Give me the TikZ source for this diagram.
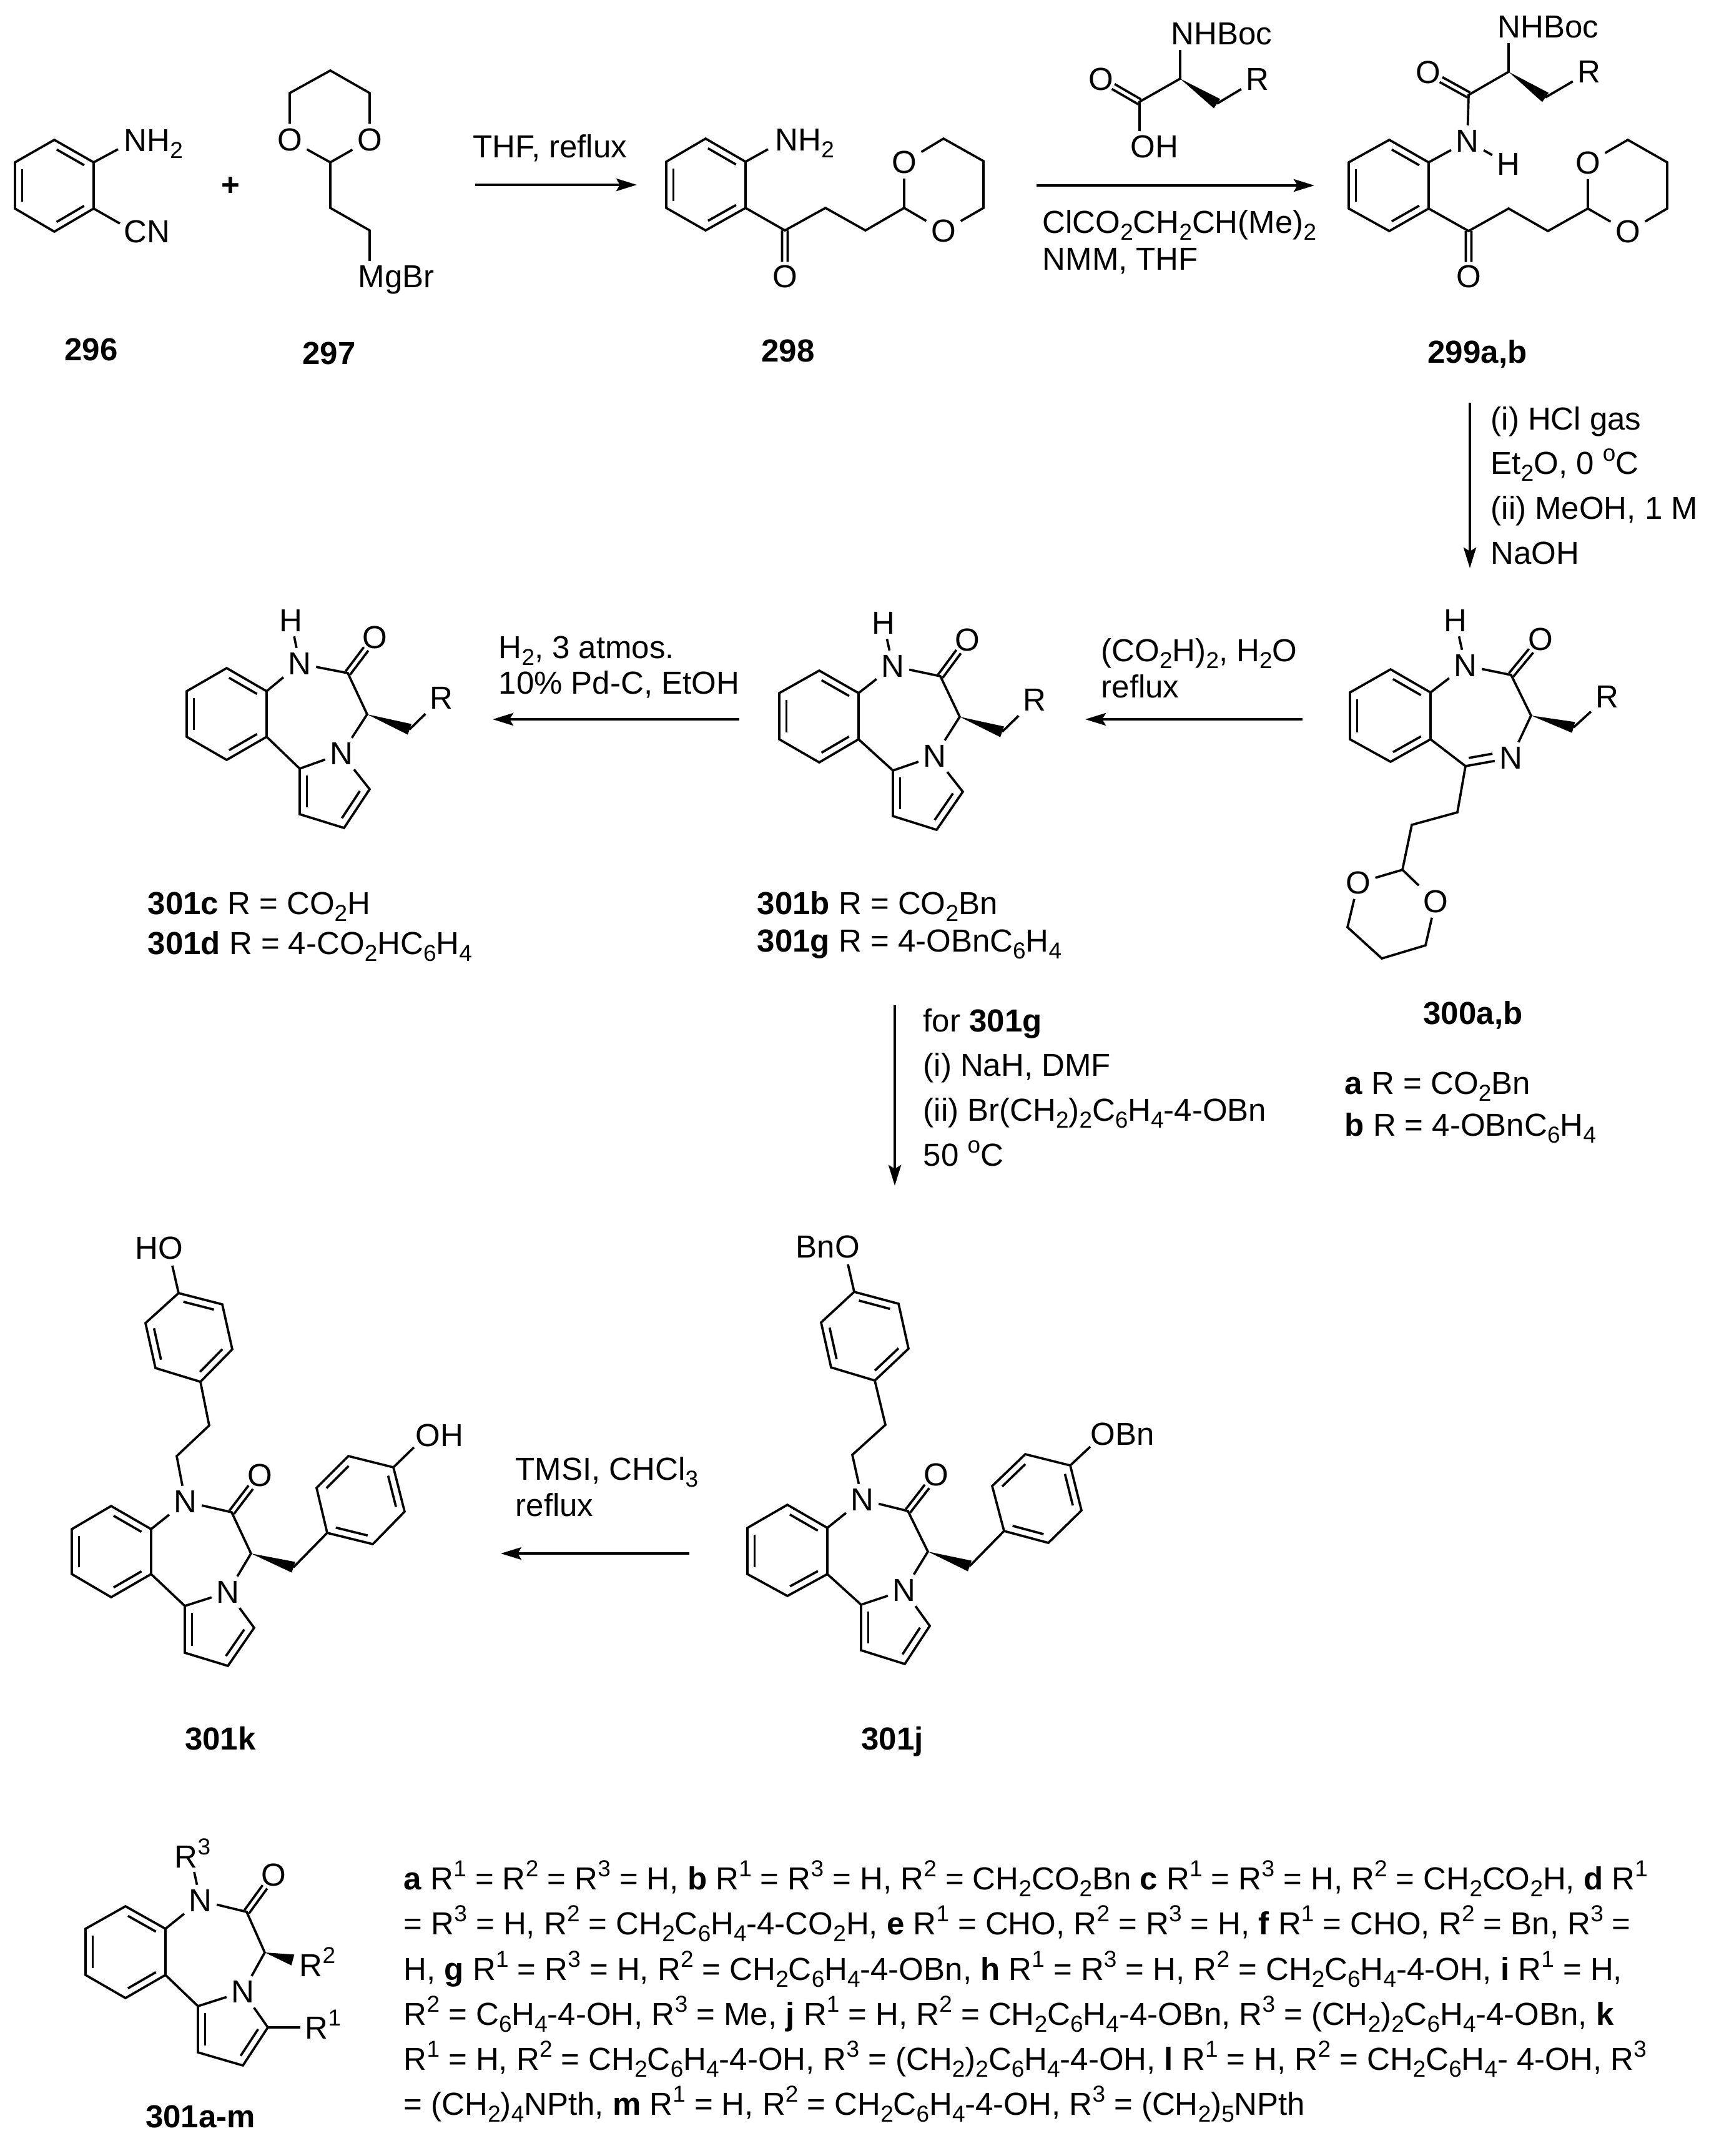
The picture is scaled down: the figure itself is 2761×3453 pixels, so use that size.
\documentclass[tikz,border=0pt]{standalone}
\usepackage{fontspec}
\setmainfont{Liberation Sans}
\usetikzlibrary{calc,arrows.meta}

\newcommand\dn[1]{\raisebox{-.22em}{\fontsize{10.5}{12}\selectfont #1}}
\newcommand\up[1]{\raisebox{.4em}{\fontsize{10.5}{12}\selectfont #1}}

\tikzset{
  bond/.style={line width=1.05pt},
  atom/.style={inner sep=2pt},
  lbl/.style={anchor=base west,inner sep=0pt},
  cmpd/.style={anchor=base,inner sep=0pt,font=\fontsize{14.5}{17}\selectfont\bfseries},
  rxn/.style={line width=1.3pt,-{Stealth[length=.33cm,width=.2cm,inset=.06cm]}},
  rxnthin/.style={rxn,line width=1pt}
}

% named points of one molecule
\newcommand\pts[2]{\foreach \n/\p in {#2} {\coordinate (#1\n) at (\p);}}
% inner line of a ring double bond, right of a->b
\newcommand\inbond[2]{\draw[bond] ($(#1)!.15!(#2)!.115cm!-90:(#2)$) -- ($(#1)!.85!(#2)!.115cm!-90:(#2)$);}
% carbonyl
\newcommand\cobond[2]{
  \draw[bond] ($(#1)!.045cm!90:(#2)$) -- ($(#1)!.68!(#2)!.045cm!90:(#2)$);
  \draw[bond] ($(#1)!.045cm!-90:(#2)$) -- ($(#1)!.68!(#2)!.045cm!-90:(#2)$);}
\newcommand\wedgebond[2]{\fill ($(#2)!.09cm!90:(#1)$) -- ($(#2)!.09cm!-90:(#1)$) -- (#1) -- cycle;}
% benzene, points clockwise, double bonds 1-2, 3-4, 5-6
\newcommand\benz[7]{
  \coordinate (#11) at (#2); \coordinate (#12) at (#3); \coordinate (#13) at (#4);
  \coordinate (#14) at (#5); \coordinate (#15) at (#6); \coordinate (#16) at (#7);
  \draw[bond] (#11) -- (#12) -- (#13) -- (#14) -- (#15) -- (#16) -- cycle;
  \inbond{#11}{#12} \inbond{#13}{#14} \inbond{#15}{#16}}
% the benzodiazepine-pyrrole core
\newcommand\tricore[1]{
  \draw[bond] (#12) -- (#1N);
  \draw[bond] (#1N) -- (#1C) -- (#1S) -- (#1M);
  \cobond{#1C}{#1O}
  \wedgebond{#1S}{#1W}
  \draw[bond] (#13) -- (#1a) -- (#1M);
  \draw[bond] (#1a) -- (#1b) -- (#1c) -- (#1d) -- (#1M);
  \inbond{#1b}{#1a} \inbond{#1d}{#1c}}

\begin{document}
\begin{tikzpicture}[x=.01cm,y=-.01cm,every node/.style={font=\fontsize{14.5}{17}\selectfont}]
\useasboundingbox (0,0) rectangle (2761,3453);

% 296
\benz{am}{87,224}{150,260}{150,334}{87,371}{24,334}{24,260}
\node[lbl] (amNH) at (198,242) {NH\dn{2}};
\node[lbl] (amCN) at (198,388) {CN};
\pts{am}{e/{189,239},f/{192,358}}
\draw[bond] (am2) -- (ame);
\draw[bond] (am3) -- (amf);
\node[cmpd] (n296) at (146,577) {296};

\node[inner sep=0pt] (plus) at (369,299) {\textbf{+}};

% 297
\pts{gr}{a/{464,149},t/{529,113},b/{592,149},C/{529,260},d/{529,333},e/{592,369},f/{592,418}}
\node[atom] (grO1) at (464,224) {O};
\node[atom] (grO2) at (592,224) {O};
\node[lbl] (grMg) at (573,460) {MgBr};
\draw[bond] (grO1) -- (gra) -- (grt) -- (grb) -- (grO2);
\draw[bond] (grO2) -- (grC) -- (grO1);
\draw[bond] (grC) -- (grd) -- (gre) -- (grf);
\node[cmpd] (n297) at (527,583) {297};

% 298
\benz{ke}{1130,222}{1194,259}{1194,333}{1130,369}{1067,333}{1067,259}
\node[lbl] (keNH) at (1241,241) {NH\dn{2}};
\pts{ke}{e/{1230,239},C/{1257,369},f/{1322,333},g/{1386,369},h/{1448,333},r/{1511,222},s/{1575,258},t/{1575,333}}
\node[atom] (keO) at (1257,443) {O};
\node[atom] (keO1) at (1448,260) {O};
\node[atom] (keO2) at (1511,370) {O};
\draw[bond] (ke2) -- (kee);
\draw[bond] (ke3) -- (keC) -- (kef) -- (keg) -- (keh);
\cobond{keC}{keO}
\draw[bond] (keh) -- (keO1) -- (ker) -- (kes) -- (ket) -- (keO2) -- (keh);
\node[cmpd] (n298) at (1262,579) {298};

% acid over the arrow
\pts{ac}{e/{1890,80},S/{1890,126},W/{1949,166},C/{1825,163},f/{1825,210}}
\node[lbl] (acNH) at (1875,71) {NHBoc};
\node[lbl] (acOH) at (1810,252) {OH};
\node[atom] (acO) at (1763,127) {O};
\node[atom] (acR) at (2014,127) {R};
\draw[bond] (ace) -- (acS) -- (acC) -- (acf);
\cobond{acC}{acO}
\wedgebond{acS}{acW}
\draw[bond] (acW) -- (acR);

% 299
\benz{mi}{2225,224}{2288,260}{2288,334}{2225,370}{2160,334}{2160,260}
\pts{mi}{e/{2416,69},S/{2416,115},W/{2475,156},c/{2352,152},C/{2352,370},f/{2416,334},g/{2479,370},h/{2543,334},r/{2607,224},s/{2670,260},t/{2670,334}}
\node[lbl] (miNH) at (2398,60) {NHBoc};
\node[atom] (miO) at (2287,116) {O};
\node[atom] (miR) at (2545,115) {R};
\node[atom] (miN) at (2350,226) {N};
\node[atom] (miH) at (2416,263) {H};
\node[atom] (miO3) at (2352,443) {O};
\node[atom] (miO1) at (2543,261) {O};
\node[atom] (miO2) at (2607,371) {O};
\draw[bond] (mie) -- (miS) -- (mic) -- (miN);
\cobond{mic}{miO}
\wedgebond{miS}{miW}
\draw[bond] (miW) -- (miR);
\draw[bond] (mi2) -- (miN) -- (miH);
\draw[bond] (mi3) -- (miC) -- (mif) -- (mig) -- (mih);
\cobond{miC}{miO3}
\draw[bond] (mih) -- (miO1) -- (mir) -- (mis) -- (mit) -- (miO2) -- (mih);
\node[cmpd] (n299) at (2366,581) {299a,b};

% 300
\benz{dz}{2227,1072}{2291,1109}{2291,1184}{2227,1220}{2162,1184}{2162,1109}
\pts{dz}{C/{2420,1081},S/{2452,1146},W/{2520,1165},I/{2347,1227},f/{2334,1301},g/{2261,1321},h/{2246,1393},r/{2158,1485},s/{2213,1535},t/{2283,1514}}
\node[atom] (dzN) at (2347,1066) {N};
\node[atom] (dzH) at (2331,994) {H};
\node[atom] (dzO) at (2467,1024) {O};
\node[atom] (dzR) at (2574,1116) {R};
\node[atom] (dzM) at (2420,1214) {N};
\node[atom] (dzO1) at (2175,1414) {O};
\node[atom] (dzO2) at (2299,1444) {O};
\draw[bond] (dz2) -- (dzN) -- (dzH);
\draw[bond] (dzN) -- (dzC) -- (dzS) -- (dzM) -- (dzI) -- (dz3);
\draw[bond] ($(dzI)!.1!(dzM)!.12cm!90:(dzM)$) -- ($(dzI)!.62!(dzM)!.12cm!90:(dzM)$);
\cobond{dzC}{dzO}
\wedgebond{dzS}{dzW}
\draw[bond] (dzW) -- (dzR);
\draw[bond] (dzI) -- (dzf) -- (dzg) -- (dzh);
\draw[bond] (dzh) -- (dzO1) -- (dzr) -- (dzs) -- (dzt) -- (dzO2) -- (dzh);
\node[cmpd] (n300) at (2359,1640) {300a,b};
\node[lbl] (lgA) at (2153,1752) {\textbf{a} R = CO\dn{2}Bn};
\node[lbl] (lgB) at (2153,1819) {\textbf{b} R = 4-OBnC\dn{6}H\dn{4}};

% 301b
\benz{pb}{1312,1074}{1375,1110}{1375,1184}{1312,1221}{1248,1184}{1248,1110}
\pts{pb}{C/{1506,1083},S/{1537,1148},W/{1605,1172},a/{1430,1234},b/{1430,1307},c/{1500,1329},d/{1542,1268}}
\node[atom] (pbN) at (1430,1067) {N};
\node[atom] (pbH) at (1415,998) {H};
\node[atom] (pbO) at (1549,1025) {O};
\node[atom] (pbR) at (1657,1121) {R};
\node[atom] (pbM) at (1497,1211) {N};
\tricore{pb}
\draw[bond] (pbN) -- (pbH);
\draw[bond] (pbW) -- (pbR);
\node[lbl] (lgBb) at (1212,1464) {\textbf{301b} R = CO\dn{2}Bn};
\node[lbl] (lgBg) at (1212,1524) {\textbf{301g} R = 4-OBnC\dn{6}H\dn{4}};

% 301c
\benz{pc}{363,1070}{427,1107}{427,1180}{363,1217}{299,1180}{299,1107}
\pts{pc}{C/{557,1078},S/{588,1144},W/{656,1168},a/{480,1231},b/{480,1304},c/{551,1326},d/{592,1264}}
\node[atom] (pcN) at (480,1063) {N};
\node[atom] (pcH) at (466,994) {H};
\node[atom] (pcO) at (600,1021) {O};
\node[atom] (pcR) at (707,1118) {R};
\node[atom] (pcM) at (547,1207) {N};
\tricore{pc}
\draw[bond] (pcN) -- (pcH);
\draw[bond] (pcW) -- (pcR);
\node[lbl] (lgCc) at (236,1464) {\textbf{301c} R = CO\dn{2}H};
\node[lbl] (lgCd) at (236,1528) {\textbf{301d} R = 4-CO\dn{2}HC\dn{6}H\dn{4}};

% 301j
\benz{pj}{1261,2410}{1325,2447}{1325,2521}{1261,2556}{1197,2521}{1197,2447}
\pts{pj}{C/{1454,2420},S/{1486,2485},W/{1553,2508},a/{1379,2570},b/{1379,2643},c/{1449,2665},d/{1489,2604},f/{1365,2330},g/{1418,2282},e/{1358,2025},h/{1746,2317}}
\node[atom] (pjN) at (1381,2402) {N};
\node[atom] (pjO) at (1499,2362) {O};
\node[atom] (pjM) at (1448,2547) {N};
\tricore{pj}
\benz{ju}{1368,2069}{1439,2088}{1455,2160}{1401,2211}{1331,2190}{1315,2118}
\benz{jr}{1679,2471}{1608,2452}{1589,2380}{1642,2329}{1714,2347}{1732,2419}
\node[lbl] (pjBn) at (1274,2014) {BnO};
\node[lbl] (pjOB) at (1746,2314) {OBn};
\draw[bond] (pje) -- (ju1);
\draw[bond] (ju4) -- (pjg) -- (pjf) -- (pjN);
\draw[bond] (pjW) -- (jr2);
\draw[bond] (jr5) -- (pjh);
\node[cmpd] (n301j) at (1429,2802) {301j};

% 301k
\benz{pk}{178,2412}{242,2449}{242,2521}{178,2558}{115,2521}{115,2449}
\pts{pk}{C/{371,2422},S/{402,2488},W/{470,2510},a/{296,2572},b/{296,2647},c/{365,2668},d/{407,2607},f/{283,2332},g/{335,2283},e/{276,2027},h/{663,2318}}
\node[atom] (pkN) at (297,2405) {N};
\node[atom] (pkO) at (416,2363) {O};
\node[atom] (pkM) at (365,2550) {N};
\tricore{pk}
\benz{ku}{286,2071}{356,2089}{372,2161}{321,2213}{249,2191}{233,2119}
\benz{kr}{597,2473}{524,2455}{507,2383}{558,2332}{630,2350}{648,2421}
\node[lbl] (pkHO) at (216,2016) {HO};
\node[lbl] (pkOH) at (665,2316) {OH};
\draw[bond] (pke) -- (ku1);
\draw[bond] (ku4) -- (pkg) -- (pkf) -- (pkN);
\draw[bond] (pkW) -- (kr2);
\draw[bond] (kr5) -- (pkh);
\node[cmpd] (n301k) at (353,2802) {301k};

% 301a-m
\benz{gn}{201,3053}{265,3089}{265,3163}{201,3200}{137,3163}{137,3089}
\pts{gn}{C/{395,3062},S/{424,3127},W/{469,3139},a/{317,3213},b/{317,3287},c/{389,3308},d/{429,3247},e/{311,2998},f/{481,3247}}
\node[atom] (gnN) at (321,3044) {N};
\node[atom] (gnO) at (438,3003) {O};
\node[atom] (gnM) at (389,3190) {N};
\tricore{gn}
\node[lbl] (gnR3) at (279,2991) {R\up{3}};
\node[lbl] (gnR2) at (479,3165) {R\up{2}};
\node[lbl] (gnR1) at (488,3265) {R\up{1}};
\draw[bond] (gnN) -- (gne);
\draw[bond] (gnd) -- (gnf);
\node[cmpd] (n301m) at (321,3407) {301a-m};

% arrows
\pts{ar}{a/{761,296},b/{1020,296},c/{1660,297},d/{2105,297},e/{2354,645},f/{2354,910},g/{2086,1152},h/{1738,1152},i/{1184,1152},j/{789,1152},k/{1433,1610},l/{1433,1899},m/{1104,2488},n/{802,2488}}
\draw[rxn] (ara) -- (arb);
\draw[rxn] (arc) -- (ard);
\draw[rxn] (are) -- (arf);
\draw[rxn] (arg) -- (arh);
\draw[rxn] (ari) -- (arj);
\draw[rxn] (ark) -- (arl);
\draw[rxnthin] (arm) -- (arn);

% conditions
\node[lbl] (t1) at (757,252) {THF, reflux};
\node[lbl] (t2) at (1669,373) {ClCO\dn{2}CH\dn{2}CH(Me)\dn{2}};
\node[lbl] (t3) at (1669,432) {NMM, THF};
\node[lbl] (t4) at (2387,688) {(i) HCl gas};
\node[lbl] (t5) at (2387,759) {Et\dn{2}O, 0 \up{o}C};
\node[lbl] (t6) at (2387,831) {(ii) MeOH, 1 M};
\node[lbl] (t7) at (2387,903) {NaOH};
\node[lbl] (t8) at (1763,1059) {(CO\dn{2}H)\dn{2}, H\dn{2}O};
\node[lbl] (t9) at (1763,1117) {reflux};
\node[lbl] (t10) at (798,1054) {H\dn{2}, 3 atmos.};
\node[lbl] (t11) at (798,1111) {10\% Pd-C, EtOH};
\node[lbl] (t12) at (1478,1652) {for \textbf{301g}};
\node[lbl] (t13) at (1478,1723) {(i) NaH, DMF};
\node[lbl] (t14) at (1478,1795) {(ii) Br(CH\dn{2})\dn{2}C\dn{6}H\dn{4}-4-OBn};
\node[lbl] (t15) at (1478,1867) {50 \up{o}C};
\node[lbl] (t16) at (825,2370) {TMSI, CHCl\dn{3}};
\node[lbl] (t17) at (825,2428) {reflux};

% substituent table
\node[lbl] (l1) at (646,3026) {\textbf{a} R\up{1} = R\up{2} = R\up{3} = H, \textbf{b} R\up{1} = R\up{3} = H, R\up{2} = CH\dn{2}CO\dn{2}Bn \textbf{c} R\up{1} = R\up{3} = H, R\up{2} = CH\dn{2}CO\dn{2}H, \textbf{d} R\up{1}};
\node[lbl] (l2) at (646,3098) {= R\up{3} = H, R\up{2} = CH\dn{2}C\dn{6}H\dn{4}-4-CO\dn{2}H, \textbf{e} R\up{1} = CHO, R\up{2} = R\up{3} = H, \textbf{f} R\up{1} = CHO, R\up{2} = Bn, R\up{3} =};
\node[lbl] (l3) at (646,3171) {H, \textbf{g} R\up{1} = R\up{3} = H, R\up{2} = CH\dn{2}C\dn{6}H\dn{4}-4-OBn, \textbf{h} R\up{1} = R\up{3} = H, R\up{2} = CH\dn{2}C\dn{6}H\dn{4}-4-OH, \textbf{i} R\up{1} = H,};
\node[lbl] (l4) at (646,3243) {R\up{2} = C\dn{6}H\dn{4}-4-OH, R\up{3} = Me, \textbf{j} R\up{1} = H, R\up{2} = CH\dn{2}C\dn{6}H\dn{4}-4-OBn, R\up{3} = (CH\dn{2})\dn{2}C\dn{6}H\dn{4}-4-OBn, \textbf{k}};
\node[lbl] (l5) at (646,3315) {R\up{1} = H, R\up{2} = CH\dn{2}C\dn{6}H\dn{4}-4-OH, R\up{3} = (CH\dn{2})\dn{2}C\dn{6}H\dn{4}-4-OH, \textbf{l} R\up{1} = H, R\up{2} = CH\dn{2}C\dn{6}H\dn{4}- 4-OH, R\up{3}};
\node[lbl] (l6) at (646,3387) {= (CH\dn{2})\dn{4}NPth, \textbf{m} R\up{1} = H, R\up{2} = CH\dn{2}C\dn{6}H\dn{4}-4-OH, R\up{3} = (CH\dn{2})\dn{5}NPth};
\end{tikzpicture}
\end{document}
